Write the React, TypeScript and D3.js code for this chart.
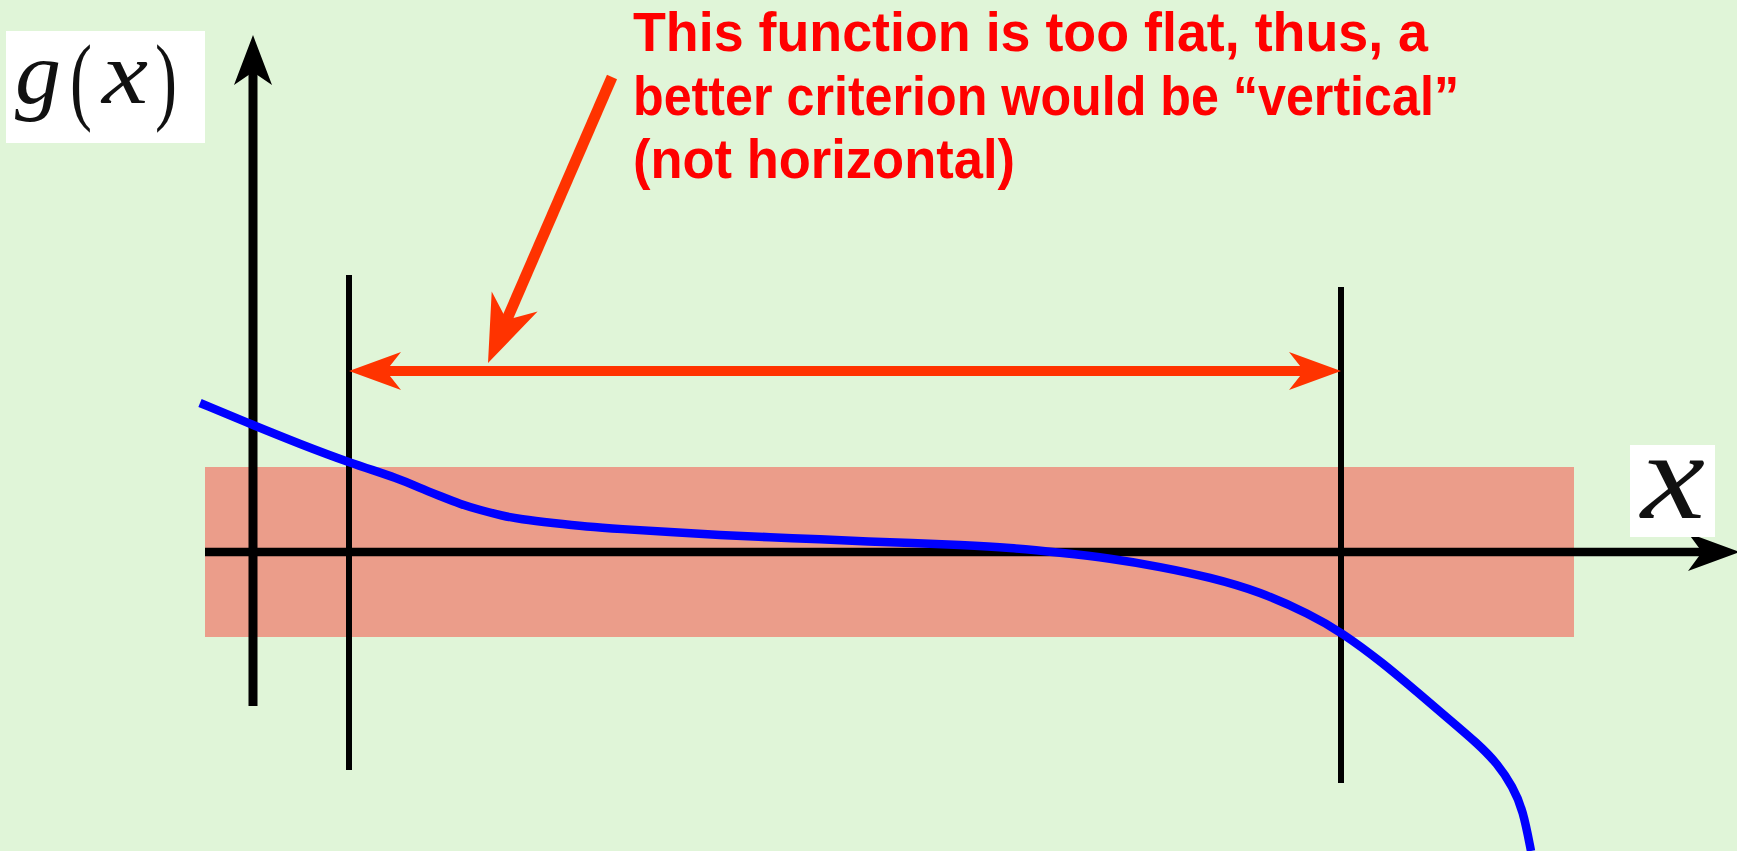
import React from "react";
import * as d3 from "d3";

// ---- data (math coordinates) ----
const curveX = [-0.53, 0, 0.47, 0.96, 1.47, 1.67, 1.87, 2.07, 2.27, 2.5, 2.67, 3.0, 3.34, 3.67, 4.17, 4.67, 5.17, 5.67, 6.17, 6.57, 7.07, 7.57, 8.07, 8.57, 9.07, 9.57, 10.07, 10.57, 10.88, 11.3, 11.64, 11.97, 12.24, 12.44, 12.6, 12.7, 12.78];
const curveY = [1.49, 1.27, 1.08, 0.895, 0.73, 0.64, 0.56, 0.48, 0.42, 0.36, 0.33, 0.29, 0.253, 0.23, 0.2, 0.17, 0.147, 0.127, 0.103, 0.093, 0.07, 0.043, -0.007, -0.063, -0.147, -0.253, -0.397, -0.623, -0.8, -1.11, -1.4, -1.68, -1.91, -2.11, -2.35, -2.58, -2.99];
const markerX = [0.96, 10.88];
const markerYTop = [2.77, 2.65];
const markerYBottom = [-2.18, -2.31];
const bandX = [-0.48, 13.21];
const bandY = [-0.85, 0.85];
const intervalY = 1.81;
const textLines = [
  "This function is too flat, thus, a",
  "better criterion would be \u201Cvertical\u201D",
  "(not horizontal)",
];
const textWidths = [795, 826, 382];

const W = 1737;
const H = 851;

const xS = d3.scaleLinear().domain([0, 1]).range([253, 353]);
const yS = d3.scaleLinear().domain([0, 1]).range([552, 452]);

function arrowHead(tipX: number, tipY: number, fromX: number, fromY: number, L: number, Hh: number, N: number) {
  const dx = fromX - tipX;
  const dy = fromY - tipY;
  const len = Math.hypot(dx, dy);
  const ux = dx / len, uy = dy / len;
  const px = -uy, py = ux;
  const bx = tipX + ux * L, by = tipY + uy * L;
  const nx = tipX + ux * (L - N), ny = tipY + uy * (L - N);
  const pts: [number, number][] = [
    [tipX, tipY],
    [bx + px * Hh, by + py * Hh],
    [nx, ny],
    [bx - px * Hh, by - py * Hh],
  ];
  return pts.map((p) => p.join(",")).join(" ");
}

export default function App() {
  const line = d3
    .line<number>()
    .x((_, i) => xS(curveX[i]))
    .y((d) => yS(d))
    .curve(d3.curveBasis);
  const curvePath = line(curveY) || "";

  const red = "#FF3300";
  const ax0 = xS(markerX[0]);
  const ax1 = xS(markerX[1]);
  const ay = yS(intervalY);

  // diagonal pointer arrow
  const dStart: [number, number] = [612, 77];
  const dTip: [number, number] = [488, 363];
  const dLen = Math.hypot(dStart[0] - dTip[0], dStart[1] - dTip[1]);
  const du = [(dStart[0] - dTip[0]) / dLen, (dStart[1] - dTip[1]) / dLen];

  const yAxisTop = yS(5.17);
  const yAxisBottom = yS(-1.54);
  const xAxisLeft = xS(-0.48);
  const xAxisRight = 1740;
  const xAxisY = yS(0);

  const serif = "'Liberation Serif', 'DejaVu Serif', serif";

  return (
    <svg
      width={W}
      height={H}
      style={{ position: "absolute", left: 0, top: 0, display: "block" }}
    >
      <rect x={0} y={0} width={W} height={H} fill="#E0F5D8" />
      {/* tolerance band */}
      <rect
        x={xS(bandX[0])}
        y={yS(bandY[1])}
        width={xS(bandX[1]) - xS(bandX[0])}
        height={yS(bandY[0]) - yS(bandY[1])}
        fill="#EB9D8A"
      />
      {/* x axis */}
      <line x1={xAxisLeft} y1={xAxisY} x2={xAxisRight - 20} y2={xAxisY} stroke="#000" strokeWidth={8.5} />
      <polygon points={arrowHead(xAxisRight, xAxisY, 0, xAxisY, 52, 19, 14)} fill="#000" />
      {/* y axis */}
      <line x1={xS(0)} y1={yAxisBottom} x2={xS(0)} y2={yAxisTop + 20} stroke="#000" strokeWidth={9} />
      <polygon points={arrowHead(xS(0), yAxisTop, xS(0), 800, 50, 19, 13)} fill="#000" />
      {/* vertical marker lines */}
      {markerX.map((mx, i) => (
        <line
          key={i}
          x1={xS(mx)}
          x2={xS(mx)}
          y1={yS(markerYTop[i])}
          y2={yS(markerYBottom[i])}
          stroke="#000"
          strokeWidth={6}
        />
      ))}
      {/* curve */}
      <path d={curvePath} fill="none" stroke="#0000FF" strokeWidth={8.5} />
      {/* interval double arrow */}
      <line x1={ax0 + 30} y1={ay} x2={ax1 - 30} y2={ay} stroke={red} strokeWidth={10} />
      <polygon points={arrowHead(ax0, ay, ax1, ay, 52, 19, 15)} fill={red} />
      <polygon points={arrowHead(ax1, ay, ax0, ay, 52, 19, 15)} fill={red} />
      {/* pointer arrow */}
      <line
        x1={dStart[0]}
        y1={dStart[1]}
        x2={dTip[0] + du[0] * 42}
        y2={dTip[1] + du[1] * 42}
        stroke={red}
        strokeWidth={11}
      />
      <polygon points={arrowHead(dTip[0], dTip[1], dStart[0], dStart[1], 67, 25, 20)} fill={red} />
      {/* annotation text */}
      <g fontFamily="'Liberation Sans', Arial, sans-serif" fontWeight="bold" fontSize={56} fill="#FF0000">
        {textLines.map((t, i) => (
          <text key={i} x={633} y={51 + i * 63.5} textLength={textWidths[i]} lengthAdjust="spacingAndGlyphs">
            {t}
          </text>
        ))}
      </g>
      {/* g(x) label */}
      <rect x={6} y={31} width={199} height={112} fill="#FFFFFF" />
      <g fill="#111" fontFamily={serif}>
        <text x={15} y={103} fontSize={88} fontStyle="italic" textLength={46} lengthAdjust="spacingAndGlyphs">g</text>
        <text x={70} y={112} fontSize={98} textLength={22} lengthAdjust="spacingAndGlyphs">(</text>
        <text x={102} y={103} fontSize={88} fontStyle="italic" textLength={46} lengthAdjust="spacingAndGlyphs">x</text>
        <text x={155} y={112} fontSize={98} textLength={22} lengthAdjust="spacingAndGlyphs">)</text>
      </g>
      {/* x label */}
      <rect x={1630} y={445} width={85} height={92} fill="#FFFFFF" />
      <text x={1641} y={518} fontFamily={serif} fontSize={124} fontStyle="italic" fill="#111" textLength={64} lengthAdjust="spacingAndGlyphs">
        x
      </text>
    </svg>
  );
}
